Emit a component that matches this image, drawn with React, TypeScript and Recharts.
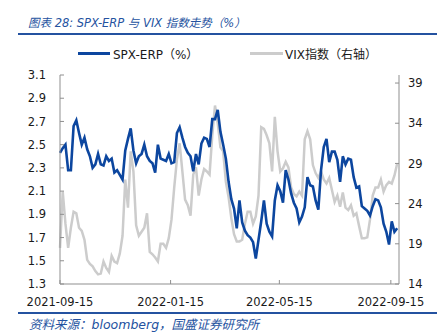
import React from "react"
import { LineChart, Line, XAxis, YAxis } from "recharts"

// SPX equity risk premium (%), one reading every 3 calendar days from 2021-09-15
const ERP = [
  2.43, 2.47, 2.5, 2.28, 2.28, 2.66, 2.71, 2.6, 2.5, 2.56,
  2.46, 2.4, 2.3, 2.33, 2.42, 2.33, 2.32, 2.4, 2.36, 2.38,
  2.26, 2.28, 2.24, 2.2, 2.45, 2.55, 2.64, 2.45, 2.34, 2.4,
  2.42, 2.5, 2.4, 2.36, 2.34, 2.26, 2.5, 2.38, 2.37, 2.36,
  2.42, 2.34, 2.35, 2.6, 2.65, 2.56, 2.48, 2.43, 2.4, 2.27,
  2.42, 2.33, 2.51, 2.56, 2.55, 2.48, 2.72, 2.72, 2.8, 2.61,
  2.5, 2.38, 2.18, 2.03, 1.95, 1.78, 2.02, 1.83, 1.76, 1.72,
  1.7, 1.66, 1.52, 1.68, 1.84, 2.02, 1.82, 1.75, 1.71, 2.02,
  2.15, 2.1, 2.0, 2.28, 2.2, 2.08, 2.0, 1.95, 1.83, 1.88,
  1.96, 2.22, 2.15, 2.14, 2.02, 1.94, 2.28, 2.48, 2.55, 2.35,
  2.44, 2.44, 2.37, 2.18, 2.4, 2.33, 2.38, 2.37, 2.22, 2.13,
  2.14, 1.97, 1.95, 1.93, 1.89, 1.97, 2.03, 2.02, 1.96, 1.82,
  1.75, 1.64, 1.84, 1.75, 1.78,
]

// VIX index (right axis), same dates
const VIX = [
  18.5, 25.5, 21.5, 18.5, 21, 23, 22.8, 21, 20.6, 19.5,
  17, 16.5, 16.2, 15.6, 15.2, 15.3, 16.8, 16, 15.5, 17.5,
  16.8, 16.6, 17.8, 20, 27, 23.5, 30.5, 28, 21.3, 20,
  20.5, 21, 22.8, 18, 17.7, 17.3, 16.8, 19, 19, 18.5,
  19.7, 22, 26, 29.5, 31.5, 28, 24.5, 23.8, 22.5, 27.6,
  28.5, 25, 27, 28.3, 28, 27.6, 32.5, 36.2, 34, 31,
  30.5, 26.7, 24.8, 22.2, 20.2, 19.3, 19.3, 19.5, 21.5, 23,
  23, 21.5, 22.4, 25, 33.5, 33.3, 32.5, 31.5, 28, 34.8,
  30.5, 28, 28.4, 29.2, 28.5, 26, 25.2, 24.9, 25.5, 25,
  32, 33, 32, 28.8, 27.8, 27.2, 28, 27, 26.5, 27.2,
  25.7, 24.2, 25, 23.6, 25.4, 23.5, 23.2, 23.8, 22.5, 22.8,
  21.2, 19.7, 19.7, 19.8, 22, 25, 26, 26, 27, 25.5,
  26.3, 26.7, 26.5, 27.5, 29,
]

const STEP_DAYS = 3
const X_TICK_DAYS = [0, 122, 242, 365]
const X_TICK_LABELS = ["2021-09-15", "2022-01-15", "2022-05-15", "2022-09-15"]
const LEFT_TICKS = [1.3, 1.5, 1.7, 1.9, 2.1, 2.3, 2.5, 2.7, 2.9, 3.1]
const RIGHT_TICKS = [14, 19, 24, 29, 34, 39]

const BLUE = "#0c469f"
const GREY = "#cccccc"
const HEAD_BLUE = "#2452a0"
const AXIS = "#8f8f8f"
const FONT = "'DejaVu Sans', 'Noto Sans CJK SC', sans-serif"

const data = ERP.map((v, i) => ({ day: i * STEP_DAYS, erp: v, vix: VIX[i] }))

const tickStyle = { fontSize: 11.5, fill: "#1a1a1a", fontFamily: FONT }

export default function App() {
  return (
    <div style={{ position: "absolute", left: 0, top: 0, width: 445, height: 335, background: "#fff", fontFamily: FONT }}>
      <div style={{ position: "absolute", left: 28, top: 14, fontSize: 11.5, fontStyle: "italic", color: HEAD_BLUE, whiteSpace: "nowrap" }}>
        图表 28: SPX-ERP 与 VIX 指数走势（%）
      </div>
      <div style={{ position: "absolute", left: 18, top: 33, width: 419, height: 1.5, background: HEAD_BLUE }} />

      {/* legend */}
      <div style={{ position: "absolute", left: 78, top: 52, width: 32, height: 2.5, background: BLUE }} />
      <div style={{ position: "absolute", left: 113, top: 45, fontSize: 12, color: "#1a1a1a", whiteSpace: "nowrap" }}>SPX-ERP（%）</div>
      <div style={{ position: "absolute", left: 250, top: 52, width: 33, height: 2.5, background: GREY }} />
      <div style={{ position: "absolute", left: 285, top: 45, fontSize: 12, color: "#1a1a1a", whiteSpace: "nowrap" }}>VIX指数（右轴）</div>

      <div style={{ position: "absolute", left: 0, top: 0 }}>
        <LineChart width={445} height={335} data={data} margin={{ top: 75, right: 0, bottom: 21, left: 0 }}>
          <XAxis
            dataKey="day"
            type="number"
            domain={[0, 374]}
            ticks={X_TICK_DAYS}
            tickFormatter={(d: number) => X_TICK_LABELS[X_TICK_DAYS.indexOf(d)]}
            height={30}
            stroke={AXIS}
            tickSize={-4}
            tickMargin={18}
            tick={tickStyle}
            interval={0}
          />
          <YAxis
            yAxisId="left"
            domain={[1.3, 3.1]}
            ticks={LEFT_TICKS}
            tickFormatter={(v: number) => v.toFixed(1)}
            width={60}
            stroke={AXIS}
            tickSize={-4}
            tickMargin={18}
            tick={tickStyle}
            interval={0}
          />
          <YAxis
            yAxisId="right"
            orientation="right"
            domain={[14, 40]}
            ticks={RIGHT_TICKS}
            width={46}
            stroke={AXIS}
            tickSize={-4}
            tickMargin={13}
            tick={tickStyle}
            interval={0}
          />
          <Line yAxisId="right" dataKey="vix" stroke={GREY} strokeWidth={2.5} dot={false} isAnimationActive={false} />
          <Line yAxisId="left" dataKey="erp" stroke={BLUE} strokeWidth={2.6} dot={false} isAnimationActive={false} />
        </LineChart>
      </div>

      <div style={{ position: "absolute", left: 18, top: 312, width: 419, height: 1.5, background: HEAD_BLUE }} />
      <div style={{ position: "absolute", left: 29, top: 314, fontSize: 12.5, fontStyle: "italic", color: HEAD_BLUE, whiteSpace: "nowrap" }}>
        资料来源：bloomberg，国盛证券研究所
      </div>
    </div>
  )
}
